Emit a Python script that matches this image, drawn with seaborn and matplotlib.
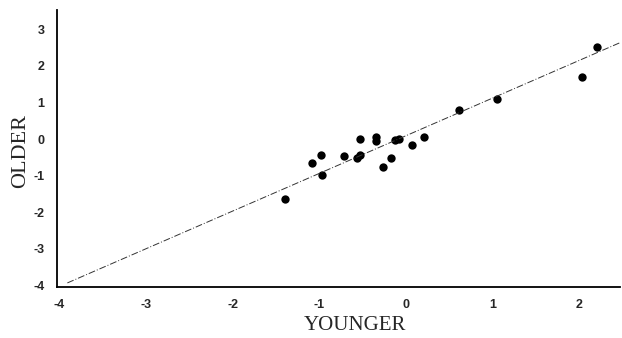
import numpy as np
import pandas as pd
import matplotlib
matplotlib.use("Agg")
import matplotlib.pyplot as plt
import seaborn as sns

# scores
younger = [-1.40, -1.09, -0.98, -0.97, -0.72, -0.53, -0.57, -0.53, -0.35, -0.35,
           -0.27, -0.17, -0.13, -0.08, 0.07, 0.21, 0.61, 1.05, 2.03, 2.20]
older = [-1.64, -0.66, -0.44, -0.97, -0.46, -0.01, -0.53, -0.43, 0.05, -0.05,
         -0.77, -0.53, -0.03, 0.00, -0.17, 0.05, 0.79, 1.08, 1.69, 2.51]

# fitted line as drawn in the figure (its two ends)
fit_x = [-3.91, 2.47]
fit_y = [-3.93, 2.63]

x_ticks = [-4, -3, -2, -1, 0, 1, 2]
y_ticks = [-4, -3, -2, -1, 0, 1, 2, 3]


def main():
    data = pd.DataFrame({"YOUNGER": younger, "OLDER": older})
    fit = pd.DataFrame({"YOUNGER": fit_x, "OLDER": fit_y})

    sns.set_style("white")
    plt.rcParams["axes.unicode_minus"] = False
    fig = plt.figure(figsize=(6.22, 3.38), dpi=100)
    ax = fig.add_axes([0.0916, 0.151, 0.905, 0.819])

    sns.lineplot(x="YOUNGER", y="OLDER", data=fit, ax=ax, color="#333333",
                 linewidth=0.7, linestyle=(0, (7, 2, 1, 2)))
    sns.scatterplot(x="YOUNGER", y="OLDER", data=data, ax=ax, s=36,
                    color="black", linewidth=0)

    ax.set_xlim(-4.03, 2.47)
    ax.set_ylim(-4.04, 3.52)
    ax.set_xticks(x_ticks)
    ax.set_yticks(y_ticks)
    ax.tick_params(length=0, pad=9, labelsize=9)
    for lab in ax.get_xticklabels() + ax.get_yticklabels():
        lab.set_fontweight("bold")
        lab.set_family("Liberation Sans")

    ax.set_xlabel("YOUNGER", family="Liberation Serif", fontsize=15)
    ax.set_ylabel("OLDER", family="Liberation Serif", fontsize=16)
    ax.xaxis.set_label_coords(0.53, -0.105)
    ax.yaxis.set_label_coords(-0.047, 0.49)

    sns.despine(ax=ax)
    for side in ["left", "bottom"]:
        ax.spines[side].set_color("black")
        ax.spines[side].set_linewidth(1.3)

    fig.savefig("out.png", dpi=100)


if __name__ == "__main__":
    main()
